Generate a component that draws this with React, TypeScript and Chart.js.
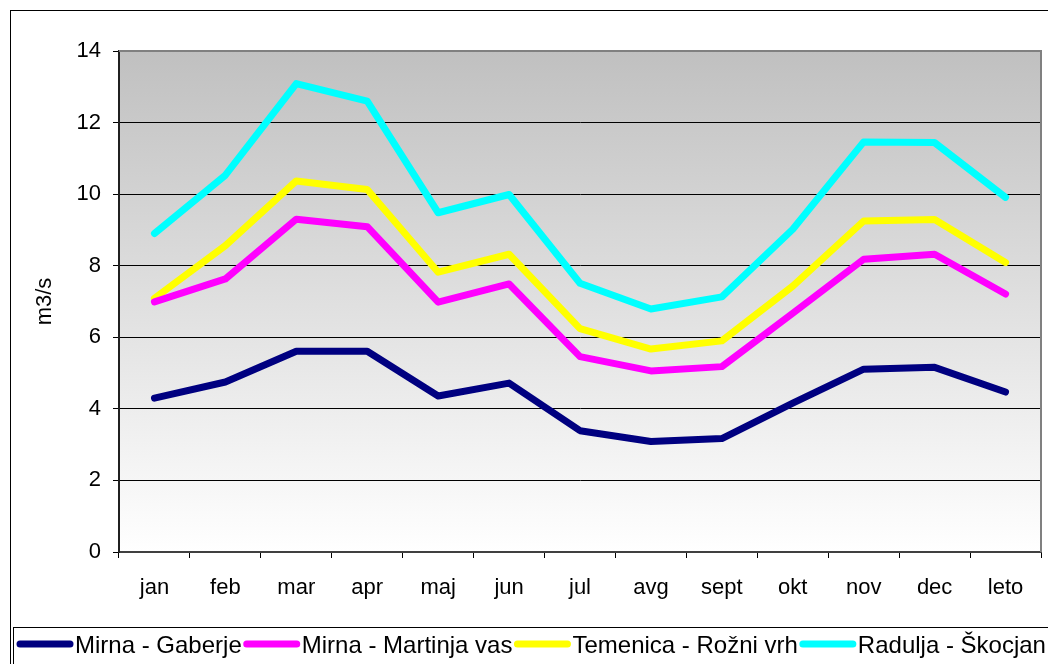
import React, { useEffect, useRef } from 'react';
import { Chart, registerables } from 'chart.js';

Chart.register(...registerables);

const categories = ['jan', 'feb', 'mar', 'apr', 'maj', 'jun', 'jul', 'avg', 'sept', 'okt', 'nov', 'dec', 'leto'];
const mirnaGaberje = [4.30, 4.75, 5.61, 5.61, 4.36, 4.72, 3.39, 3.09, 3.17, 4.16, 5.11, 5.16, 4.47];
const mirnaMartinjaVas = [6.99, 7.63, 9.30, 9.09, 6.98, 7.49, 5.46, 5.06, 5.18, 6.67, 8.18, 8.32, 7.21];
const temenicaRozniVrh = [7.09, 8.56, 10.37, 10.13, 7.82, 8.32, 6.24, 5.67, 5.90, 7.43, 9.25, 9.29, 8.09];
const raduljaSkocjan = [8.90, 10.53, 13.09, 12.60, 9.48, 9.99, 7.51, 6.79, 7.13, 9.02, 11.46, 11.44, 9.91];
const seriesNames = ['Mirna - Gaberje', 'Mirna - Martinja vas', 'Temenica - Rožni vrh', 'Radulja - Škocjan'];
const seriesColors = ['#000080', '#ff00ff', '#ffff00', '#00ffff'];
const yMin = 0;
const yMax = 14;
const yStep = 2;
const yTitle = 'm3/s';

const FONT = '"Liberation Sans", Arial, sans-serif';

const backgroundPlugin = {
  id: 'bgPlot',
  beforeDraw(chart: any) {
    const { ctx, chartArea, width, height } = chart;
    ctx.save();
    ctx.fillStyle = '#ffffff';
    ctx.fillRect(0, 0, width, height);
    ctx.strokeStyle = '#000000';
    ctx.lineWidth = 1;
    ctx.strokeRect(10.5, 10.5, width + 20, height + 20);
    const g = ctx.createLinearGradient(0, chartArea.top, 0, chartArea.bottom);
    g.addColorStop(0, '#c0c0c0');
    g.addColorStop(1, '#ffffff');
    ctx.fillStyle = g;
    ctx.fillRect(chartArea.left, chartArea.top, chartArea.right - chartArea.left, chartArea.bottom - chartArea.top);
    ctx.restore();
  },
  afterDraw(chart: any) {
    const { ctx, chartArea, width, height } = chart;
    ctx.save();
    ctx.strokeStyle = '#808080';
    ctx.lineWidth = 2;
    ctx.beginPath();
    ctx.moveTo(chartArea.left, chartArea.top);
    ctx.lineTo(chartArea.right, chartArea.top);
    ctx.lineTo(chartArea.right, chartArea.bottom);
    ctx.stroke();

    ctx.strokeStyle = '#000000';
    ctx.lineWidth = 1;
    ctx.strokeRect(13.5, 627.5, width + 20, height);
    ctx.font = '24px ' + FONT;
    ctx.textBaseline = 'alphabetic';
    ctx.textAlign = 'left';
    let x = 17;
    const lineY = 644;
    chart.data.datasets.forEach((ds: any) => {
      ctx.strokeStyle = ds.borderColor;
      ctx.lineWidth = 7;
      ctx.lineCap = 'round';
      ctx.beginPath();
      ctx.moveTo(x + 3, lineY);
      ctx.lineTo(x + 53, lineY);
      ctx.stroke();
      ctx.fillStyle = '#000000';
      ctx.fillText(ds.label, x + 58, 653);
      x += 58 + ctx.measureText(ds.label).width + 2;
    });
    ctx.restore();
  },
};

export default function App() {
  const ref = useRef<HTMLCanvasElement | null>(null);

  useEffect(() => {
    document.body.style.margin = '0';
    if (!ref.current) return;
    const seriesData = [mirnaGaberje, mirnaMartinjaVas, temenicaRozniVrh, raduljaSkocjan];
    const chart = new Chart(ref.current, {
      type: 'line',
      data: {
        labels: categories,
        datasets: seriesData.map((d, i) => ({
          label: seriesNames[i],
          data: d,
          borderColor: seriesColors[i],
          backgroundColor: seriesColors[i],
          borderWidth: 7,
          pointRadius: 0,
          tension: 0,
          fill: false,
          borderCapStyle: 'round',
          borderJoinStyle: 'round',
        })),
      },
      options: {
        animation: false,
        responsive: false,
        devicePixelRatio: 1,
        layout: { padding: { top: 51, right: 7, bottom: 0, left: 0 } },
        plugins: {
          legend: { display: false },
          tooltip: { enabled: false },
        },
        scales: {
          x: {
            offset: true,
            afterFit(scale: any) { scale.height = 112; },
            grid: {
              display: true,
              offset: true,
              drawOnChartArea: false,
              drawTicks: true,
              tickLength: 6,
              color: '#000000',
            },
            border: { display: true, color: '#404040', width: 2 },
            ticks: {
              color: '#000000',
              font: { family: FONT, size: 22 },
              padding: 17,
              maxRotation: 0,
              autoSkip: false,
            },
          },
          y: {
            min: yMin,
            max: yMax,
            afterFit(scale: any) { scale.width = 119; },
            grid: {
              color: '#000000',
              lineWidth: 1,
              drawTicks: true,
              tickLength: 6,
            },
            border: { display: true, color: '#202020', width: 2 },
            ticks: {
              stepSize: yStep,
              color: '#000000',
              font: { family: FONT, size: 22 },
              padding: 12,
            },
            title: {
              display: true,
              text: yTitle,
              color: '#000000',
              font: { family: FONT, size: 22 },
              padding: { top: 32, bottom: 0 },
            },
          },
        },
      },
      plugins: [backgroundPlugin],
    } as any);
    return () => chart.destroy();
  }, []);

  return (
    <div style={{ width: 1048, height: 664 }}>
      <canvas ref={ref} width={1048} height={664} style={{ display: 'block' }} />
    </div>
  );
}
